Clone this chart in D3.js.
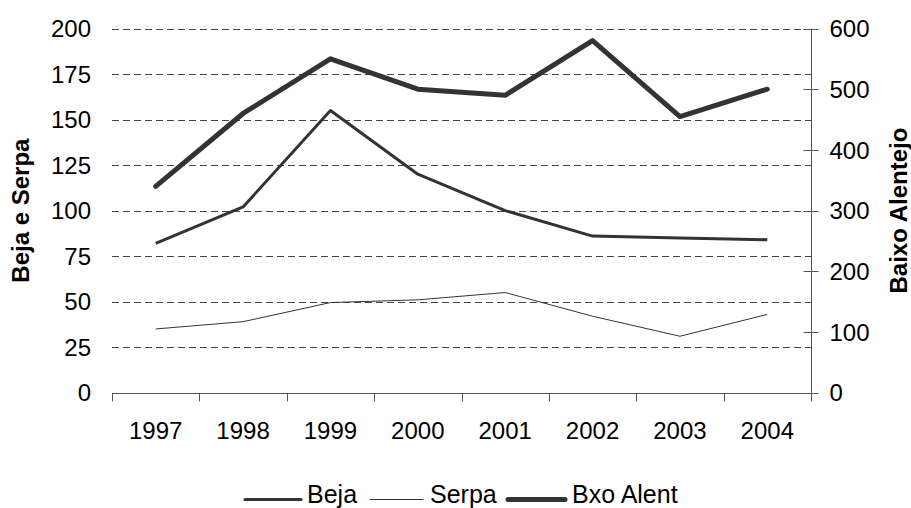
<!DOCTYPE html>
<html>
<head>
<meta charset="utf-8">
<script src="https://cdn.jsdelivr.net/npm/d3@7"></script>
<style>
  html, body { margin: 0; padding: 0; background: #fff; }
  svg { display: block; font-family: "Liberation Sans", Arial, sans-serif; }
</style>
</head>
<body>
<svg id="chart" width="911" height="508"></svg>
<script>
const years = ["1997", "1998", "1999", "2000", "2001", "2002", "2003", "2004"];
const beja = [82, 102, 155, 120, 100, 86, 85, 84];
const serpa = [35, 39, 49.5, 51, 55, 42, 31, 43];
const bxoAlent = [340, 460, 550, 500, 490, 580, 455, 500];
const leftTicks = [0, 25, 50, 75, 100, 125, 150, 175, 200];
const rightTicks = [0, 100, 200, 300, 400, 500, 600];
const leftTitle = "Beja e Serpa";
const rightTitle = "Baixo Alentejo";
const seriesNames = ["Beja", "Serpa", "Bxo Alent"];

const svg = d3.select("#chart");
const L = 112, R = 811, T = 28.5, B = 392.7;
const ink = "#333";

const x = d3.scaleBand().domain(years).range([L, R]);
const yL = d3.scaleLinear().domain([0, 200]).range([B, T]);
const yR = d3.scaleLinear().domain([0, 600]).range([B, T]);

// gridlines
svg.append("g").selectAll("line").data(leftTicks.filter(d => d > 0)).join("line")
  .attr("x1", L).attr("x2", R)
  .attr("y1", d => Math.round(yL(d)) + 0.5).attr("y2", d => Math.round(yL(d)) + 0.5)
  .attr("stroke", "#444").attr("stroke-width", 1).attr("stroke-dasharray", "7,4");

// left tick labels
svg.append("g").selectAll("text").data(leftTicks).join("text")
  .attr("x", 91).attr("y", d => yL(d)).attr("dy", "0.36em")
  .attr("text-anchor", "end").attr("font-size", 24).attr("fill", "#000")
  .text(d => d);

// bottom axis
const gx = svg.append("g").attr("transform", `translate(0,${Math.round(B) + 0.5})`);
gx.append("line").attr("x1", L).attr("x2", R).attr("stroke", "#555").attr("stroke-width", 1);
const bounds = years.map(d => x(d)).concat([R]);
gx.selectAll("line.tk").data(bounds).join("line").attr("class", "tk")
  .attr("x1", d => Math.round(d) + 0.5).attr("x2", d => Math.round(d) + 0.5)
  .attr("y1", 0).attr("y2", 8).attr("stroke", "#555");
gx.selectAll("text").data(years).join("text")
  .attr("x", d => x(d) + x.bandwidth() / 2).attr("y", 45)
  .attr("text-anchor", "middle").attr("font-size", 24).attr("fill", "#000")
  .text(d => d);

// right axis
const gr = svg.append("g").attr("transform", `translate(${R + 0.5},0)`);
gr.append("line").attr("y1", T).attr("y2", B + 8).attr("stroke", "#555");
gr.selectAll("line.tk").data(rightTicks).join("line").attr("class", "tk")
  .attr("x1", -8).attr("x2", 7)
  .attr("y1", d => Math.round(yR(d)) + 0.5).attr("y2", d => Math.round(yR(d)) + 0.5)
  .attr("stroke", "#555");
gr.selectAll("text").data(rightTicks).join("text")
  .attr("x", 18).attr("y", d => yR(d)).attr("dy", "0.36em")
  .attr("text-anchor", "start").attr("font-size", 24).attr("fill", "#000")
  .text(d => d);

// axis titles
svg.append("text").attr("transform", `translate(29,${(T + B) / 2}) rotate(-90)`)
  .attr("text-anchor", "middle").attr("font-size", 24).attr("font-weight", "bold")
  .text(leftTitle);
svg.append("text").attr("transform", `translate(907,${(T + B) / 2}) rotate(-90)`)
  .attr("text-anchor", "middle").attr("font-size", 24).attr("font-weight", "bold")
  .text(rightTitle);

// lines
const cx = d => x(d) + x.bandwidth() / 2;
const lineL = d3.line().x((d, i) => cx(years[i])).y(d => yL(d));
const lineR = d3.line().x((d, i) => cx(years[i])).y(d => yR(d));

svg.append("path").datum(serpa).attr("d", lineL)
  .attr("fill", "none").attr("stroke", ink).attr("stroke-width", 1);
svg.append("path").datum(beja).attr("d", lineL)
  .attr("fill", "none").attr("stroke", ink).attr("stroke-width", 3).attr("stroke-linejoin", "round");
svg.append("path").datum(bxoAlent).attr("d", lineR)
  .attr("fill", "none").attr("stroke", ink).attr("stroke-width", 5)
  .attr("stroke-linejoin", "round").attr("stroke-linecap", "round");

// legend
const legend = [
  { name: seriesNames[0], w: 3, x1: 245, x2: 301, tx: 307 },
  { name: seriesNames[1], w: 1, x1: 370, x2: 423, tx: 430 },
  { name: seriesNames[2], w: 5, x1: 508, x2: 565, tx: 572 }
];
const lg = svg.append("g");
lg.selectAll("line").data(legend).join("line")
  .attr("x1", d => d.x1).attr("x2", d => d.x2).attr("y1", 499.5).attr("y2", 499.5)
  .attr("stroke", ink).attr("stroke-width", d => d.w).attr("stroke-linecap", "round");
lg.selectAll("text").data(legend).join("text")
  .attr("x", d => d.tx).attr("y", 503).attr("font-size", 25).attr("fill", "#000")
  .text(d => d.name);
</script>
</body>
</html>
